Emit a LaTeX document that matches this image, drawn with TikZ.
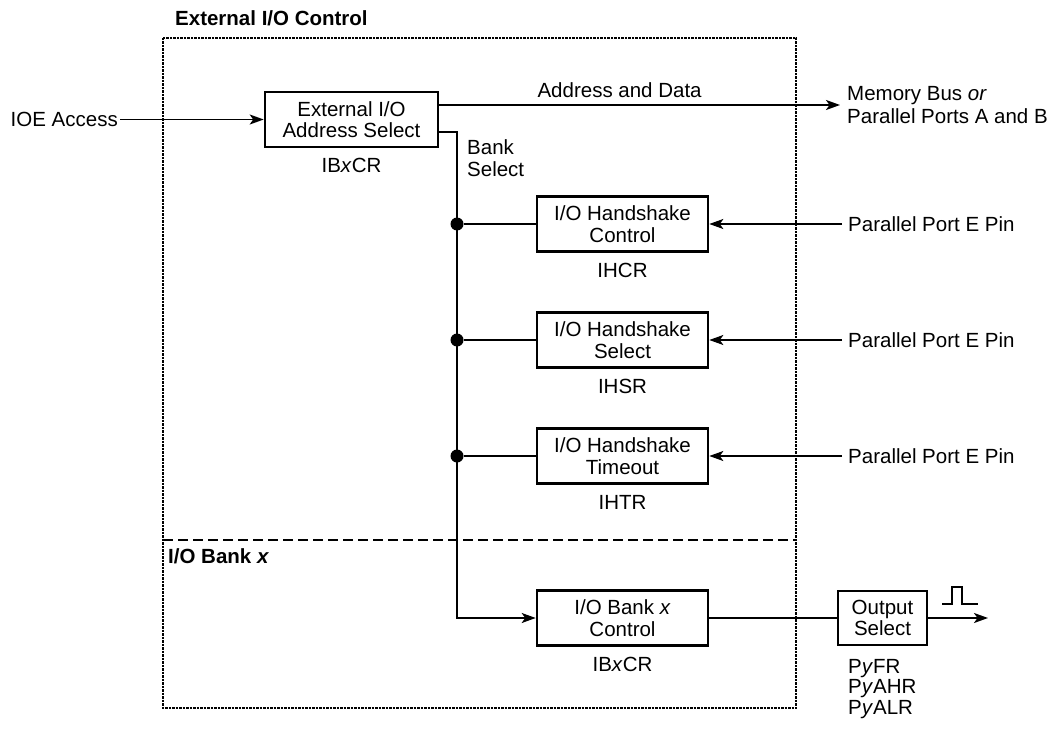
\documentclass[tikz,border=0pt]{standalone}
\usepackage{fontspec}
\setmainfont{Liberation Sans}
\usepackage{tikz}
\usetikzlibrary{arrows.meta,positioning,calc}

\begin{document}
\begin{tikzpicture}[x=1pt,y=-1pt,font=\fontsize{20.5}{21.5}\selectfont,
    >={Stealth[length=14pt,width=10pt,inset=3.5pt]},
    wire/.style={line width=1.8pt},
    box/.style={draw,line width=2.6pt,align=center,minimum width=171,minimum height=55,inner sep=2pt},
    reg/.style={inner sep=0pt},
    sig/.style={inner sep=2pt},
    title/.style={font=\fontsize{20.5}{21.5}\selectfont\bfseries,inner sep=2pt},
    dot/.style={circle,fill,inner sep=0pt,minimum size=13pt},
    frame/.style={line width=2.4pt,dash pattern=on 2.5pt off 1pt},
    sep/.style={line width=2.2pt,dash pattern=on 10pt off 5pt}]
  \useasboundingbox (0,0) rectangle (1059,730);
  % external I/O control frame
  \draw[frame] (163,38) rectangle (796,708);
  \draw[sep] (163,540) -- (796,540);
  \node[title,anchor=west] (t1) at (173,18) {External I/O Control};
  \node[title,anchor=west] (t2) at (166,556) {I/O Bank \textit{x}};
  % address select
  \node[box,minimum width=173] (eas) at (351.5,119.5) {External I/O\\Address Select};
  \node[reg,below=10pt of eas] (eas-r) {IB\textit{x}CR};
  \node[sig,anchor=east] (ioe) at (120,119.5) {IOE Access};
  \draw[wire,->] (ioe.east) -- (eas.west);
  \node[anchor=west,align=left,inner sep=7pt,font=\fontsize{20.5}{23}\selectfont] (mem) at (840,105) {Memory Bus \textit{or}\\Parallel Ports A and B};
  \draw[wire,->] ($(eas.east)+(0,-14.5)$) -- (mem.west)
    node[pos=0.45,above=3pt] (ad) {Address and Data};
  \node[sig,anchor=west,align=left] (bsl) at (465,158) {Bank\\Select};
  % handshake registers
  \foreach \y/\name/\txt/\reg in {224/hc/Control/IHCR, 340/hs/Select/IHSR, 456/ht/Timeout/IHTR} {
    \node[box] (\name) at (622.5,\y) {I/O Handshake\\\txt};
    \node[reg,below=10pt of \name] (\name-r) {\reg};
    \node[anchor=west,inner sep=6pt] (\name-p) at (842,\y) {Parallel Port E Pin};
    \node[dot] (\name-d) at (457,\y) {};
    \draw[wire,->] (\name-p.west) -- (\name.east);
    \draw[wire] (\name-d) -- (\name.west);
  }
  % bank x control
  \node[box] (bc) at (622.5,618) {I/O Bank \textit{x}\\Control};
  \node[reg,below=10pt of bc] (bc-r) {IB\textit{x}CR};
  \coordinate (bk) at (457,618);
  \draw[wire,->] ($(eas.east)+(0,12.5)$) -| (bk) -- (bc.west);
  % output select
  \node[box,minimum width=89,minimum height=54] (os) at (882.5,618) {Output\\Select};
  \node[reg,anchor=north west,align=left,font=\fontsize{20.5}{20.5}\selectfont] (os-r) at (848,659) {P\textit{y}FR\\P\textit{y}AHR\\P\textit{y}ALR};
  \coordinate (out) at (988,618);
  \draw[wire] (bc.east) -- (os.west);
  \draw[wire,->] (os.east) -- (out);
  \draw[wire] (942,604) -- (952,604) -- (952,587) -- (962,587) -- (962,604) -- (978,604);
\end{tikzpicture}
\end{document}
